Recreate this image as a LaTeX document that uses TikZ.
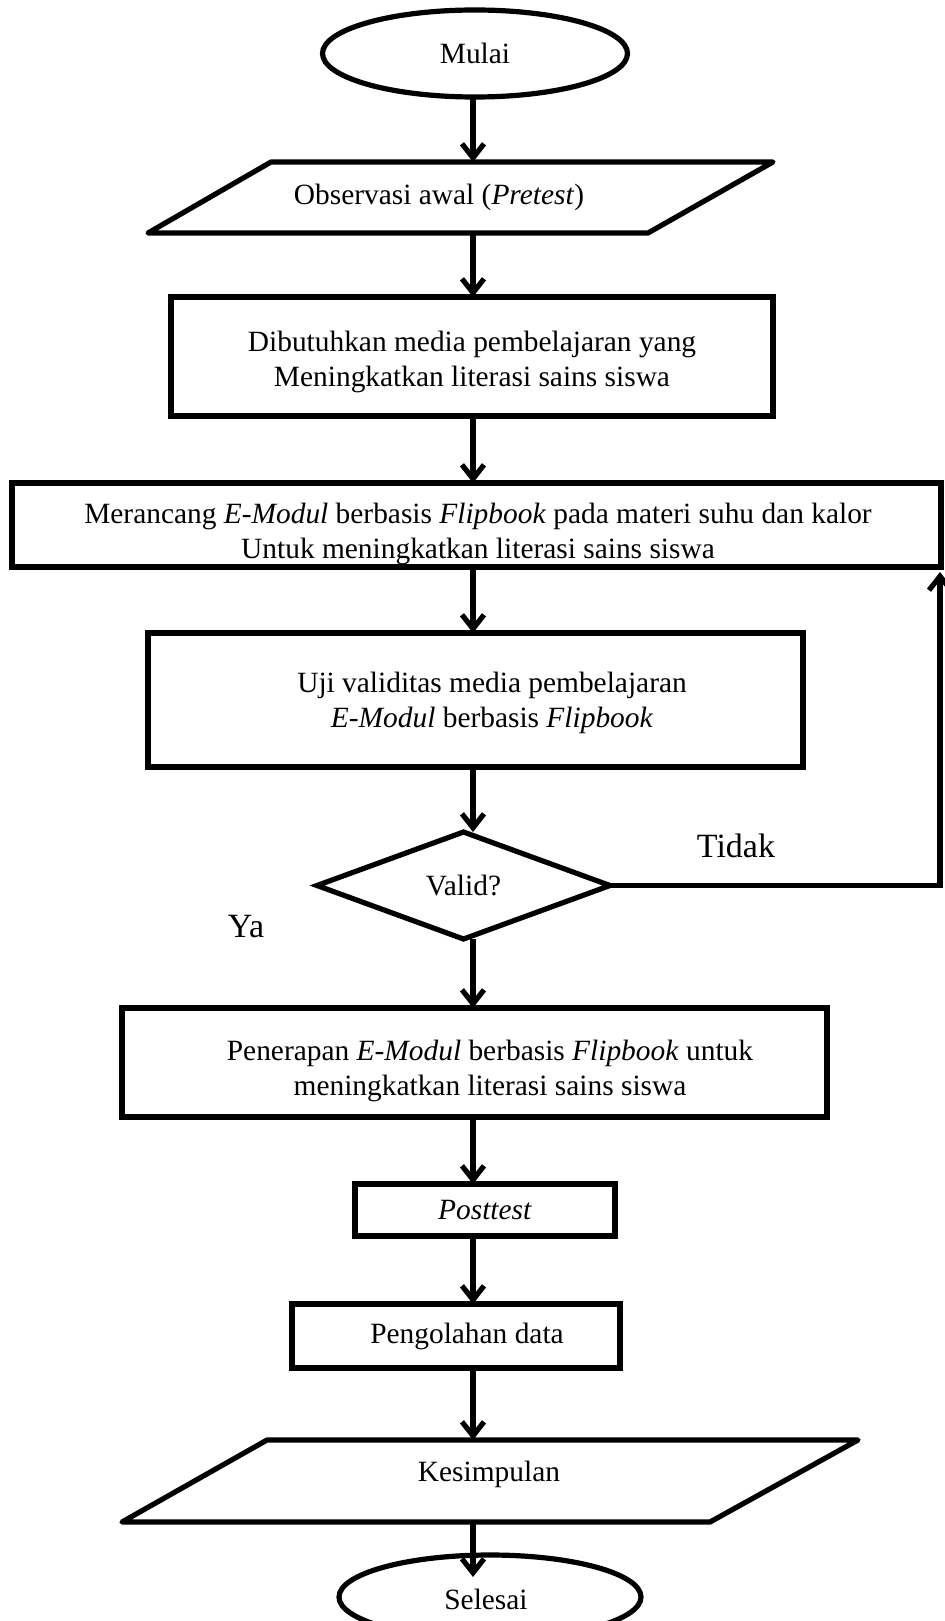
\documentclass[tikz,border=0pt]{standalone}
\usepackage{fontspec}
\setmainfont{Liberation Serif}
\usetikzlibrary{shapes.geometric,arrows.meta}
\begin{document}
\begin{tikzpicture}[x=0.5pt,y=-0.5pt,
  every node/.style={font=\fontsize{14.7}{17.5}\selectfont, inner sep=0pt, outer sep=0pt},
  lw/.style={line width=2.6pt},
  box/.style={draw, lw, rectangle, align=center},
  txt/.style={align=center},
  term/.style={draw, lw, ellipse, fill=white},
  dec/.style={draw, lw, diamond},
  para/.style={lw, line join=round},
  arr/.style={lw, -{Straight Barb[length=7pt,width=11pt]}},
  big/.style={font=\fontsize{17}{20}\selectfont}
]
\useasboundingbox (0,0) rectangle (944,1621);
\coordinate (ax) at (473,0);

% start
\node[term, minimum width=152.5pt, minimum height=43.5pt] (mulai) at (475,53.5) {Mulai};

% observasi
\draw[para] (271,162) -- (773,162) -- (648,233) -- (148,233) -- cycle;
\node[minimum height=35.5pt] (obs) at (439,197.5) {Observasi awal (\textit{Pretest})};

% box 2
\node[txt] (needt) at (472,362) {Dibutuhkan media pembelajaran yang\\Meningkatkan literasi sains siswa};
\node[box, minimum width=301pt, minimum height=59.5pt] (need) at (472,356.5) {};

% box 3
\node[txt] (designt) at (478,534)
  {Merancang \textit{E-Modul} berbasis \textit{Flipbook} pada materi suhu dan kalor\\Untuk meningkatkan literasi sains siswa};
\node[box, minimum width=464.5pt, minimum height=42pt] (design) at (476.5,525) {};

% box uji
\node[txt] (ujit) at (492,703) {Uji validitas media pembelajaran\\\textit{E-Modul} berbasis \textit{Flipbook}};
\node[box, minimum width=327.5pt, minimum height=67pt] (uji) at (475.5,700) {};

% decision
\node[dec, minimum width=146.5pt, minimum height=53.5pt] (valid) at (463.5,885.5) {Valid?};
\node[big] (tidak) at (736,846) {Tidak};
\node[big] (ya) at (246,927) {Ya};
\coordinate (looptip) at (940,572);

% penerapan
\node[txt] (pent) at (490,1071) {Penerapan \textit{E-Modul} berbasis \textit{Flipbook} untuk\\meningkatkan literasi sains siswa};
\node[box, minimum width=352.5pt, minimum height=54.5pt] (pen) at (474.5,1062.5) {};

% posttest
\node[box, minimum width=130pt, minimum height=26pt] (post) at (485,1210) {\textit{Posttest}};

% pengolahan
\node[box, minimum width=164pt, minimum height=32pt] (olah) at (456,1336) {\hspace*{11pt}Pengolahan data};

% kesimpulan
\draw[para] (267,1440) -- (858,1440) -- (710,1522) -- (122,1522) -- cycle;
\node[minimum height=41pt] (kes) at (489,1474) {Kesimpulan};
\coordinate (kesT) at (473,1440);
\coordinate (kesB) at (473,1522);

% end
\node[term, minimum width=151pt, minimum height=42pt] (selesai) at (490,1597) {};
\node (selesait) at (486,1599) {Selesai};
\coordinate (endtip) at (473,1577);

% connectors
\draw[arr] (mulai.south -| ax) -- (obs.north -| ax);
\draw[arr] (obs.south -| ax) -- (need.north -| ax);
\draw[arr] (need.south -| ax) -- (design.north -| ax);
\draw[arr] (design.south -| ax) -- (uji.north -| ax);
\draw[arr] (uji.south -| ax) -- (valid.north -| ax);
\draw[arr] (valid.south -| ax) -- (pen.north -| ax);
\draw[arr] (pen.south -| ax) -- (post.north -| ax);
\draw[arr] (post.south -| ax) -- (olah.north -| ax);
\draw[arr] (olah.south -| ax) -- (kesT);
\draw[arr] (kesB) -- (endtip);
\draw[arr] (valid.east) -| (looptip);
\end{tikzpicture}
\end{document}
